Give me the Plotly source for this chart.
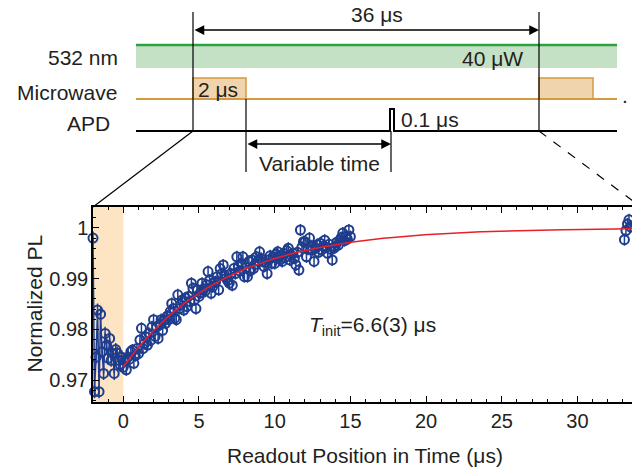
import numpy as np
import plotly.graph_objects as go

W, H = 632, 472

# ---------------- data ----------------
t_pre = [-2.0, -1.9, -1.8, -1.7, -1.6, -1.5, -1.4, -1.3, -1.2, -1.1,
         -1.0, -0.9, -0.8, -0.7, -0.6, -0.5, -0.4, -0.3, -0.2, -0.1]
pl_pre = [0.9980, 0.9677, 0.9745, 0.9838, 0.9677, 0.9830, 0.9756, 0.9713, 0.9792, 0.9769,
          0.9743, 0.9782, 0.9739, 0.9753, 0.9713, 0.9760, 0.9753, 0.9739, 0.9730, 0.9745]

t_main = [round(0.1 * i, 1) for i in range(151)]
pl_main = [
    0.9725, 0.9738, 0.9720, 0.9745, 0.9741, 0.9756, 0.9759, 0.9733, 0.9748, 0.9762,
    0.9752, 0.9779, 0.9802, 0.9762, 0.9772, 0.9785, 0.9769, 0.9792, 0.9778, 0.9805,
    0.9819, 0.9786, 0.9805, 0.9782, 0.9809, 0.9819, 0.9798, 0.9819, 0.9812, 0.9826,
    0.9819, 0.9835, 0.9851, 0.9841, 0.9822, 0.9819, 0.9868, 0.9841, 0.9848, 0.9858,
    0.9838, 0.9862, 0.9845, 0.9865, 0.9855, 0.9891, 0.9881, 0.9858, 0.9841, 0.9878,
    0.9865, 0.9872, 0.9891, 0.9880, 0.9875, 0.9888, 0.9914, 0.9897, 0.9871, 0.9884,
    0.9893, 0.9894, 0.9904, 0.9878, 0.9920, 0.9910, 0.9927, 0.9907, 0.9901, 0.9896,
    0.9891, 0.9910, 0.9887, 0.9920, 0.9910, 0.9943, 0.9924, 0.9915, 0.9930, 0.9943,
    0.9904, 0.9922, 0.9904, 0.9934, 0.9916, 0.9937, 0.9920, 0.9928, 0.9943, 0.9935,
    0.9953, 0.9940, 0.9934, 0.9924, 0.9932, 0.9910, 0.9937, 0.9945, 0.9930, 0.9943,
    0.9930, 0.9948, 0.9953, 0.9943, 0.9938, 0.9934, 0.9950, 0.9942, 0.9955, 0.9960,
    0.9937, 0.9946, 0.9950, 0.9940, 0.9927, 0.9952, 0.9917, 0.9996, 0.9962, 0.9973,
    0.9973, 0.9943, 0.9958, 0.9980, 0.9965, 0.9957, 0.9934, 0.9960, 0.9967, 0.9952,
    0.9970, 0.9957, 0.9964, 0.9976, 0.9962, 0.9950, 0.9968, 0.9958, 0.9937, 0.9960,
    0.9963, 0.9972, 0.9966, 0.9976, 0.9981, 0.9990, 0.9975, 0.9983, 0.9978, 0.9996,
    0.9983,
]

t_end = [33.1, 33.2, 33.3, 33.4, 33.5]
pl_end = [0.9977, 0.9995, 1.0008, 1.0016, 1.0002]

err_pre = 0.0013
err_main = 0.0012

# fit parameters: PL = A - B*exp(-t/T_init)
fit_A, fit_B, fit_T = 1.0, 0.0274, 6.6

x_ticks = [0, 5, 10, 15, 20, 25, 30]
y_ticks = [0.97, 0.98, 0.99, 1.0]
y_ticklabels = ["0.97", "0.98", "0.99", "1"]

# ---------------- styling ----------------
BLUE = "#1f3d8f"
FONT = "Liberation Sans, Arial, sans-serif"
TXT = "#231f20"
FS = 21
TFS = 20

fig = go.Figure()

fig.add_trace(go.Scatter(
    x=t_pre, y=pl_pre, mode="lines+markers",
    line=dict(color=BLUE, width=1.5),
    marker=dict(symbol="circle-open", size=9, color=BLUE, line=dict(width=2, color=BLUE)),
    error_y=dict(type="constant", value=err_pre, color=BLUE, thickness=1.5, width=0),
    showlegend=False, cliponaxis=False))

for xs, ys in [(t_main, pl_main), (t_end, pl_end)]:
    fig.add_trace(go.Scatter(
        x=xs, y=ys, mode="markers",
        marker=dict(symbol="circle-open", size=9, color=BLUE, line=dict(width=2, color=BLUE)),
        error_y=dict(type="constant", value=err_main, color=BLUE, thickness=1.5, width=0),
        showlegend=False, cliponaxis=False))

t_fit = np.linspace(0, 33.6, 300)
fig.add_trace(go.Scatter(
    x=t_fit, y=fit_A - fit_B * np.exp(-t_fit / fit_T), mode="lines",
    line=dict(color="#e8202a", width=1.5), showlegend=False))

# plot area in pixel terms
L, R, T, B = 93, 632, 207, 402
fig.update_layout(
    width=W, height=H, margin=dict(l=0, r=0, t=0, b=0),
    paper_bgcolor="white", plot_bgcolor="white",
    font=dict(family=FONT, size=FS, color=TXT),
    xaxis=dict(domain=[L / W, R / W], range=[-2, 33.6], tickvals=x_ticks,
               ticks="inside", ticklen=6, tickwidth=1.2, tickcolor="black",
               showline=True, linecolor="black", linewidth=1.5, mirror="ticks",
               showgrid=False, zeroline=False, automargin=False,
               minor=dict(dtick=1, ticks="inside", ticklen=3, tickwidth=1, tickcolor="black"),
               tickfont=dict(size=TFS, color=TXT)),
    yaxis=dict(domain=[1 - B / H, 1 - T / H], range=[0.96566, 1.00414],
               tickvals=y_ticks, ticktext=y_ticklabels,
               ticks="inside", ticklen=6, tickwidth=1.2, tickcolor="black",
               showline=True, linecolor="black", linewidth=1.5,
               showgrid=False, zeroline=False, automargin=False,
               ticklabelstandoff=-1,
               minor=dict(dtick=0.002, ticks="inside", ticklen=3, tickwidth=1, tickcolor="black"),
               tickfont=dict(size=TFS, color=TXT)),
)

# orange microwave region in the plot
fig.add_shape(type="rect", xref="x", yref="y domain", x0=-2, x1=0, y0=0, y1=1,
              fillcolor="#fde4c3", line=dict(width=0), layer="below")


def P(px, py):
    return px / W, 1 - py / H


def line(x0, y0, x1, y1, color="black", width=1.2, dash="solid"):
    a, b = P(x0, y0)
    c, d = P(x1, y1)
    fig.add_shape(type="line", xref="paper", yref="paper", x0=a, y0=b, x1=c, y1=d,
                  line=dict(color=color, width=width, dash=dash))


def rect(x0, y0, x1, y1, fill, lc=None, lw=0):
    a, b = P(x0, y0)
    c, d = P(x1, y1)
    fig.add_shape(type="rect", xref="paper", yref="paper", x0=a, y0=b, x1=c, y1=d,
                  fillcolor=fill, line=dict(color=lc or fill, width=lw), layer="above")


def path(points, color, width):
    s = "M " + " L ".join(f"{px / W:.5f},{1 - py / H:.5f}" for px, py in points)
    fig.add_shape(type="path", xref="paper", yref="paper", path=s,
                  line=dict(color=color, width=width))


def text(s, px, py, xanchor="center", size=FS):
    a, b = P(px, py)
    fig.add_annotation(text=s, xref="paper", yref="paper", x=a, y=b, showarrow=False,
                       xanchor=xanchor, yanchor="middle", font=dict(size=size, color=TXT, family=FONT))


def arrow2(x0, x1, py):
    c, b = P(x1, py)
    fig.add_annotation(xref="paper", yref="paper", axref="pixel", ayref="pixel",
                       x=c, y=b, ax=x0 - x1, ay=0, text="", showarrow=True,
                       arrowhead=2, arrowside="end+start", arrowsize=1.3, arrowwidth=1.5,
                       arrowcolor="black", standoff=0, startstandoff=0)


# green laser
rect(136, 45, 617, 68, "#c5e1c5")
line(136, 45, 617, 45, color="#2ca343", width=2.5)
# microwave
MW = "#d49a3f"
rect(193, 78, 246, 99, "#efd4ae", MW, 1.5)
rect(539, 78, 593, 99, "#efd4ae", MW, 1.5)
path([(136, 99), (617, 99)], MW, 2)
# APD
path([(136, 131), (390, 131), (390, 109), (394, 109), (394, 131), (617, 131)], "black", 2)

# vertical markers
line(193, 12, 193, 131)
line(539, 12, 539, 131)
line(246, 99, 246, 172)
line(391, 131, 391, 172)
# zoom connectors
line(193, 131, 93, 207, width=1.2)
line(539, 131, 641, 207, width=1.2, dash="dash")

arrow2(193, 539, 30)
arrow2(246, 391, 144)

text("36 μs", 377, 14)
text("532 nm", 120, 57, xanchor="right")
text("40 μW", 492, 58)
text("Microwave", 119, 92, xanchor="right")
text("2 μs", 196, 90, xanchor="left")
text("APD", 112, 124, xanchor="right")
text("0.1 μs", 399, 119, xanchor="left")
text("Variable time", 319, 163)
text(".", 625, 95)

# axis titles and fit label
text("Readout Position in Time (μs)", 365, 455)
a, b = P(20, 304)
fig.add_annotation(text="Normalized PL", xref="paper", yref="paper", x=a, y=b, showarrow=False,
                   textangle=-90, font=dict(size=FS, color=TXT, family=FONT))
text("<i>T</i><sub>init</sub>=6.6(3) μs", 307, 326, xanchor="left", size=21)

fig.write_html("out.html")
